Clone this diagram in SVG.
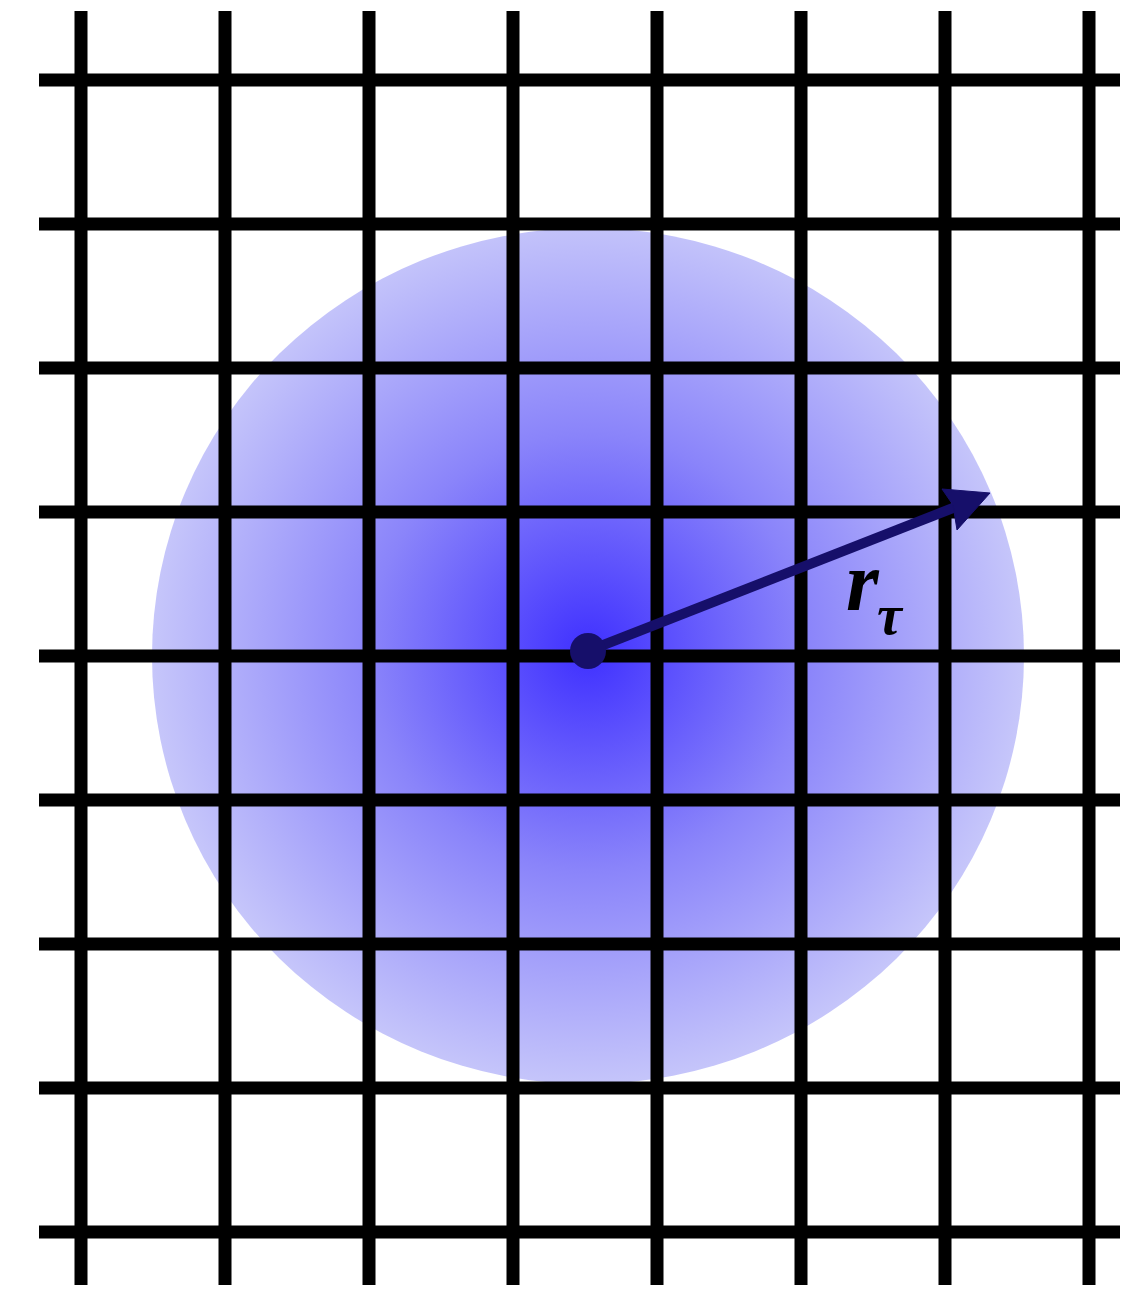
<svg xmlns="http://www.w3.org/2000/svg" width="1147" height="1289" viewBox="0 0 1147 1289">
<defs>
<radialGradient id="g" cx="588" cy="652" r="436" gradientUnits="userSpaceOnUse">
<stop offset="0" stop-color="#3f30ff"/>
<stop offset="0.5" stop-color="#8a84fa"/>
<stop offset="1" stop-color="#c6c6fa"/>
</radialGradient>
<style>
.grid line{stroke:#000;stroke-width:13}
.arrow{fill:#160f6a;stroke:#160f6a}
</style>
</defs>
<rect width="1147" height="1289" fill="#fff"/>
<ellipse id="cloud" cx="588" cy="656" rx="436" ry="428" fill="url(#g)"/>
<g class="grid" id="grid">
<line x1="81" y1="11" x2="81" y2="1285"/>
<line x1="225" y1="11" x2="225" y2="1285"/>
<line x1="369" y1="11" x2="369" y2="1285"/>
<line x1="513" y1="11" x2="513" y2="1285"/>
<line x1="657" y1="11" x2="657" y2="1285"/>
<line x1="801" y1="11" x2="801" y2="1285"/>
<line x1="945" y1="11" x2="945" y2="1285"/>
<line x1="1089" y1="11" x2="1089" y2="1285"/>
<line x1="39" y1="80" x2="1120" y2="80"/>
<line x1="39" y1="224" x2="1120" y2="224"/>
<line x1="39" y1="368" x2="1120" y2="368"/>
<line x1="39" y1="512" x2="1120" y2="512"/>
<line x1="39" y1="656" x2="1120" y2="656"/>
<line x1="39" y1="800" x2="1120" y2="800"/>
<line x1="39" y1="944" x2="1120" y2="944"/>
<line x1="39" y1="1088" x2="1120" y2="1088"/>
<line x1="39" y1="1232" x2="1120" y2="1232"/>
</g>
<g id="connectors">
<line class="arrow" x1="588" y1="651" x2="958" y2="506" stroke-width="10"/>
<path class="arrow" stroke-width="1" d="M990,493 L942,489 L953,505 L957,530 Z"/>
</g>
<g id="center">
<circle cx="588" cy="651" r="18" fill="#160f6a"/>
</g>
<g id="label">
<text x="846" y="610" font-family="Liberation Serif, serif" font-style="italic" font-weight="bold" font-size="84" fill="#000">r</text>
<text x="877" y="634" font-family="Liberation Serif, serif" font-style="italic" font-weight="bold" font-size="56" fill="#000">τ</text>
</g>
</svg>
